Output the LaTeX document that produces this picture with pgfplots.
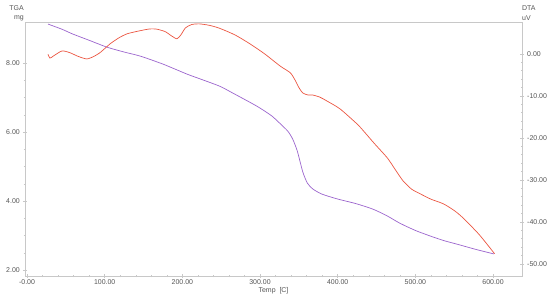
\documentclass[border=0pt]{standalone}
\usepackage{pgfplots}
\pgfplotsset{compat=1.18}
\usepackage{fontspec}
\setmainfont{Liberation Sans}
\definecolor{tgac}{RGB}{155,100,205}
\definecolor{dtac}{RGB}{235,85,65}
\definecolor{axc}{RGB}{200,200,200}
\definecolor{txc}{RGB}{85,85,85}
\begin{document}
\begin{tikzpicture}
\path[use as bounding box] (-25bp,-22bp) rectangle (528bp,276bp);
\pgfplotsset{
 common/.style={
  width=497bp, height=254bp, scale only axis,
  xmin=-2.6, xmax=637.3,
  axis line style={axc, line width=0.6pt},
  tick style={axc, line width=0.5pt},
  major tick length=4bp, minor tick length=2.5bp,
  tick align=center,
  every tick label/.append style={font=\fontsize{7}{8}\selectfont, text=txc},
  /pgf/number format/assume math mode=true,
 }
}
\begin{axis}[common,
  ymin=1.83, ymax=9.19,
  xtick pos=bottom, ytick pos=left,
  xtick={0,100,...,600},
  xticklabels={-0.00,100.00,200.00,300.00,400.00,500.00,600.00},
  ytick={2,4,6,8},
  yticklabels={2.00,4.00,6.00,8.00},
  minor x tick num=4, minor y tick num=3,
  xticklabel style={inner sep=1pt},
  yticklabel style={inner sep=1pt, xshift=-2bp},
  clip=false,
]
\addplot[tgac, line width=0.7pt, smooth, tension=0.4] coordinates {
(27,9.13) (45,8.98) (59,8.84) (80,8.66) (103,8.46) (125,8.32) (146,8.20)
(175,7.97) (206,7.68) (223,7.54) (248,7.33) (265,7.13) (296,6.75) (315,6.47)
(328,6.20) (336,6.02) (342,5.80) (348,5.45) (355,4.85) (361,4.52) (368,4.35)
(380,4.20) (400,4.06) (423,3.93) (445,3.77) (463,3.58) (480,3.36) (500,3.15)
(519,2.99) (536,2.86) (554,2.75) (578,2.60) (601,2.47)
};
\node[font=\fontsize{7}{8}\selectfont, text=txc, anchor=east, inner sep=0pt] at (rel axis cs:0,1) [xshift=-1bp, yshift=14bp] {TGA};
\node[font=\fontsize{7}{8}\selectfont, text=txc, anchor=east, inner sep=0pt] at (rel axis cs:0,1) [xshift=-1bp, yshift=4bp] {mg};
\node[font=\fontsize{7}{8}\selectfont, text=txc, anchor=west, inner sep=0pt] at (rel axis cs:1,1) [xshift=0bp, yshift=14bp] {DTA};
\node[font=\fontsize{7}{8}\selectfont, text=txc, anchor=west, inner sep=0pt] at (rel axis cs:1,1) [xshift=0bp, yshift=4bp] {uV};
\node[font=\fontsize{7}{8}\selectfont, text=txc, inner sep=0pt] at (rel axis cs:0.5,0) [yshift=-15bp] {Temp\ \ [C]};
\end{axis}
\begin{axis}[common,
  ymin=-52.9, ymax=7.6,
  axis x line=none, axis y line*=right,
  ytick={-50,-40,...,0},
  yticklabels={-50.00,-40.00,-30.00,-20.00,-10.00,0.00},
  minor y tick num=4,
  yticklabel style={inner sep=1pt, xshift=2bp},
]
\addplot[dtac, line width=0.7pt, smooth, tension=0.4] coordinates {
(27,-0.1) (29.5,-1.0) (34,-0.5) (45,0.7) (55,0.3) (66,-0.6) (77,-1.2) (86,-0.6)
(94,0.3) (107,2.4) (118,3.8) (129,4.8) (145,5.5) (158,5.95) (167,5.9) (178,5.3)
(186,4.3) (193,3.6) (198,4.5) (204,6.2) (212,7.0) (222,7.15) (235,6.8) (248,6.1)
(268,4.5) (287,2.4) (306,0.0) (326,-2.9) (339,-4.5) (345,-6.2) (350,-8.0)
(355,-9.3) (362,-9.8) (368,-9.8) (377,-10.3) (386,-11.2) (403,-13.1) (425,-16.7)
(433,-18.3) (447,-21.3) (464,-24.8) (475,-27.8) (484,-30.2) (495,-32.2)
(506,-33.3) (520,-34.6) (536,-35.7) (550,-37.3) (561,-39.0) (582,-43.0) (602,-47.6)
};
\end{axis}
\end{tikzpicture}
\end{document}
